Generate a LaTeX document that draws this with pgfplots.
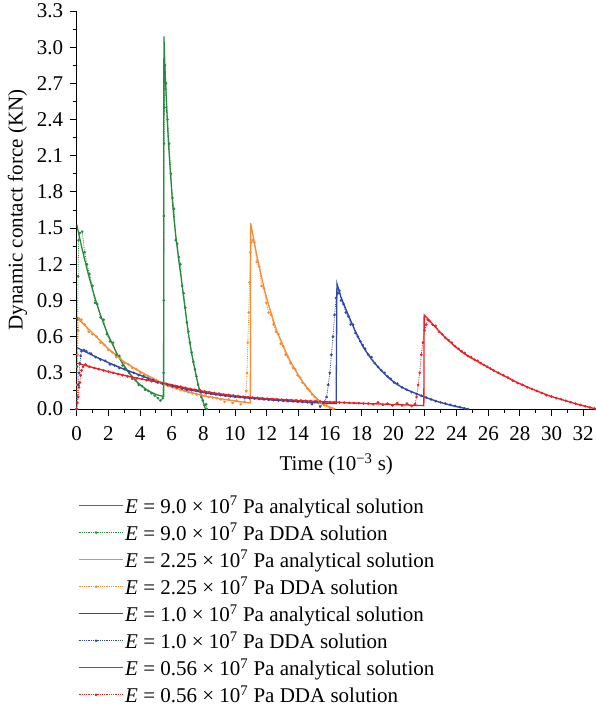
\documentclass[border=0pt]{standalone}
\usepackage{fontspec}
\setmainfont{Liberation Serif}
\usepackage{pgfplots}
\pgfplotsset{compat=1.18}
\definecolor{cg}{RGB}{40,138,64}
\definecolor{co}{RGB}{247,140,50}
\definecolor{cb}{RGB}{48,72,168}
\definecolor{cr}{RGB}{237,32,38}
\pgfplotsset{
  ana/.style={line width=1.3pt, no markers, color=#1, draw=#1},
  dda/.style={densely dotted, line width=0.8pt, color=#1, draw=#1, mark=*, mark size=0.9pt, mark options={solid, draw=#1, fill=#1}},
}
\begin{document}
\begin{tikzpicture}[font=\fontsize{21}{25}\selectfont]
\useasboundingbox (0,0) rectangle (596pt,710pt);
\begin{axis}[
  at={(76.7pt,301pt)}, anchor=south west,
  scale only axis, width=519.2pt, height=398pt,
  xmin=0, xmax=32.8, ymin=0, ymax=3.3,
  axis x line*=bottom, axis y line*=left,
  axis line style={line width=0.9pt},
  tick align=outside, tick style={line width=0.9pt, black},
  major tick length=7pt, minor tick length=4pt,
  xtick={0,2,...,32}, ytick={0,0.3,...,3.31},
  minor x tick num=1, minor y tick num=1,
  /pgf/number format/assume math mode=true,
  yticklabel style={xshift=-3pt, /pgf/number format/.cd, fixed, fixed zerofill, precision=1},
  xticklabel style={yshift=-7pt, /pgf/number format/.cd, fixed, precision=0},
  xlabel={Time (10\textsuperscript{−3} s)},
  xlabel style={yshift=-6pt},
  ylabel={Dynamic contact force (KN)},
  ylabel shift=3pt,
  legend image code/.code={\draw[mark repeat=2,mark phase=2,#1] plot coordinates {(0pt,0pt) (17.5pt,0pt) (35pt,0pt)}; \path (0pt,0pt) -- (44pt,0pt);},
  legend style={at={(0,-0.2085)}, xshift=-2pt, anchor=north west, draw=none, fill=none,
    cells={anchor=west}, font=\fontsize{21}{25}\selectfont, row sep=4.4pt},
  legend cell align=left,
]
\addlegendimage{color=cg, draw=cg, line width=1.3pt, mark=none}
\addlegendentry{\textit{E} = 9.0 × 10\textsuperscript{7} Pa analytical solution}
\addlegendimage{color=cg, draw=cg, densely dotted, line width=0.8pt, mark=*, mark size=0.9pt, mark options={solid, fill=cg}}
\addlegendentry{\textit{E} = 9.0 × 10\textsuperscript{7} Pa DDA solution}
\addlegendimage{color=co, draw=co, line width=1.3pt, mark=none}
\addlegendentry{\textit{E} = 2.25 × 10\textsuperscript{7} Pa analytical solution}
\addlegendimage{color=co, draw=co, densely dotted, line width=0.8pt, mark=*, mark size=0.9pt, mark options={solid, fill=co}}
\addlegendentry{\textit{E} = 2.25 × 10\textsuperscript{7} Pa DDA solution}
\addlegendimage{color=cb, draw=cb, line width=1.3pt, mark=none}
\addlegendentry{\textit{E} = 1.0 × 10\textsuperscript{7} Pa analytical solution}
\addlegendimage{color=cb, draw=cb, densely dotted, line width=0.8pt, mark=*, mark size=0.9pt, mark options={solid, fill=cb}}
\addlegendentry{\textit{E} = 1.0 × 10\textsuperscript{7} Pa DDA solution}
\addlegendimage{color=cr, draw=cr, line width=1.3pt, mark=none}
\addlegendentry{\textit{E} = 0.56 × 10\textsuperscript{7} Pa analytical solution}
\addlegendimage{color=cr, draw=cr, densely dotted, line width=0.8pt, mark=*, mark size=0.9pt, mark options={solid, fill=cr}}
\addlegendentry{\textit{E} = 0.56 × 10\textsuperscript{7} Pa DDA solution}
% E = 9.0e7
\addplot[ana=cg, forget plot] coordinates {(0,1.53) (0.25,1.38) (0.5,1.24) (0.75,1.11) (1,0.99) (1.25,0.88) (1.5,0.78) (1.75,0.69) (2,0.61) (2.25,0.54) (2.5,0.47) (2.75,0.41) (3,0.36) (3.25,0.31) (3.5,0.27) (3.76,0.23) (4.02,0.2) (4.27,0.175) (4.53,0.15) (4.78,0.135) (5.03,0.12) (5.29,0.11) (5.49,0.105) (5.51,3.09) (5.59,2.78) (5.69,2.48) (5.79,2.22) (5.90,2.0) (6.0,1.81) (6.10,1.64) (6.20,1.51) (6.30,1.39) (6.45,1.23) (6.61,1.08) (6.76,0.92) (6.91,0.77) (7.06,0.62) (7.26,0.46) (7.54,0.28) (7.77,0.15) (8.01,0.05) (8.13,0)};
\addplot[dda=cg, forget plot] coordinates {(0,0) (0.03,0.35) (0.06,0.75) (0.09,1.1) (0.12,1.4) (0.2,1.46) (0.35,1.47) (0.5,1.3) (0.65,1.2) (0.8,1.12) (1.0,1.02) (1.15,0.88) (1.3,0.87) (1.5,0.76) (1.7,0.74) (1.9,0.62) (2.1,0.56) (2.3,0.55) (2.5,0.45) (2.7,0.44) (2.9,0.36) (3.1,0.33) (3.31,0.3) (3.51,0.25) (3.72,0.24) (3.92,0.2) (4.12,0.19) (4.32,0.16) (4.53,0.15) (4.73,0.13) (4.93,0.11) (5.13,0.09) (5.29,0.07) (5.44,0.09) (5.49,0.3) (5.50,0.9) (5.51,1.6) (5.52,2.2) (5.54,2.5) (5.57,2.85) (5.64,2.7) (5.74,2.4) (5.84,2.2) (5.95,1.95) (6.05,1.75) (6.15,1.66) (6.25,1.4) (6.35,1.37) (6.45,1.26) (6.55,1.2) (6.66,1.02) (6.76,0.96) (6.86,0.84) (6.96,0.72) (7.06,0.64) (7.16,0.55) (7.26,0.47) (7.37,0.39) (7.47,0.33) (7.57,0.27) (7.67,0.2) (7.77,0.16) (7.87,0.1) (7.97,0.07) (8.08,0.03) (8.18,0.04) (8.23,0.0)};
% E = 2.25e7
\addplot[ana=co, forget plot] coordinates {(0,0.76) (0.5,0.695) (1,0.63) (1.5,0.565) (2,0.5) (2.5,0.445) (3,0.39) (3.51,0.35) (4.02,0.31) (4.52,0.275) (5.03,0.24) (5.54,0.21) (6.05,0.18) (6.55,0.16) (7.06,0.14) (7.57,0.125) (8.08,0.11) (8.58,0.097) (9.09,0.085) (9.60,0.075) (10.1,0.065) (10.61,0.056) (10.97,0.05) (10.99,1.54) (11.12,1.45) (11.37,1.28) (11.63,1.12) (11.9,0.97) (12.13,0.86) (12.43,0.73) (12.69,0.63) (12.96,0.55) (13.22,0.47) (13.48,0.40) (13.76,0.335) (14.01,0.28) (14.26,0.23) (14.54,0.18) (14.82,0.135) (15.08,0.1) (15.33,0.068) (15.58,0.04) (15.99,0.015) (16.34,0)};
\addplot[dda=co, forget plot] coordinates {(0,0) (0.03,0.2) (0.06,0.45) (0.1,0.65) (0.15,0.75) (0.3,0.74) (0.5,0.7) (0.75,0.64) (1.0,0.62) (1.25,0.6) (1.5,0.55) (1.75,0.53) (2.0,0.49) (2.25,0.47) (2.5,0.43) (2.75,0.42) (3.0,0.38) (3.26,0.37) (3.51,0.34) (3.76,0.33) (4.02,0.3) (4.27,0.28) (4.53,0.27) (4.78,0.25) (5.03,0.24) (5.29,0.22) (5.54,0.2) (5.79,0.19) (6.05,0.18) (6.30,0.17) (6.55,0.16) (6.81,0.15) (7.06,0.14) (7.32,0.13) (7.57,0.12) (7.82,0.12) (8.08,0.11) (8.33,0.1) (8.58,0.095) (8.84,0.09) (9.09,0.08) (9.34,0.06) (9.60,0.08) (9.85,0.05) (10.1,0.07) (10.36,0.04) (10.61,0.06) (10.71,0.15) (10.76,0.3) (10.81,0.55) (10.87,0.8) (10.92,1.05) (10.97,1.3) (11.02,1.38) (11.12,1.4) (11.22,1.38) (11.37,1.22) (11.53,1.18) (11.68,1.02) (11.83,1.0) (11.98,0.88) (12.13,0.8) (12.29,0.78) (12.44,0.7) (12.59,0.64) (12.74,0.62) (12.89,0.54) (13.05,0.52) (13.2,0.45) (13.35,0.43) (13.5,0.38) (13.66,0.34) (13.81,0.33) (13.96,0.28) (14.11,0.26) (14.26,0.22) (14.42,0.2) (14.57,0.17) (14.72,0.15) (14.87,0.12) (15.03,0.1) (15.18,0.08) (15.33,0.06) (15.48,0.05) (15.63,0.03) (15.79,0.03) (15.99,0.01) (16.19,0.0)};
% E = 1.0e7
\addplot[ana=cb, forget plot] coordinates {(0,0.51) (1,0.445) (2,0.385) (3,0.33) (4.02,0.28) (5.03,0.23) (6.05,0.19) (7.06,0.16) (8.08,0.135) (9.09,0.115) (10.1,0.1) (11.12,0.088) (12.13,0.077) (13.15,0.068) (14.16,0.06) (15.18,0.052) (16.39,0.045) (16.44,1.04) (16.69,0.93) (17.06,0.81) (17.58,0.65) (18.11,0.51) (18.63,0.41) (19.16,0.33) (19.69,0.26) (20.22,0.205) (20.76,0.165) (21.26,0.138) (21.77,0.11) (22.32,0.083) (22.84,0.06) (23.37,0.04) (23.90,0.022) (24.43,0.008) (24.66,0)};
\addplot[dda=cb, forget plot] coordinates {(0,0) (0.05,0.1) (0.1,0.2) (0.15,0.3) (0.2,0.38) (0.25,0.44) (0.3,0.48) (0.45,0.49) (0.6,0.48) (0.9,0.46) (1.2,0.43) (1.5,0.41) (1.8,0.4) (2.1,0.37) (2.4,0.36) (2.7,0.34) (3.0,0.33) (3.31,0.31) (3.61,0.3) (3.92,0.28) (4.22,0.27) (4.53,0.25) (4.83,0.24) (5.13,0.22) (5.44,0.21) (5.74,0.2) (6.05,0.19) (6.35,0.18) (6.66,0.17) (6.96,0.16) (7.26,0.155) (7.57,0.15) (7.87,0.14) (8.18,0.13) (8.48,0.125) (8.79,0.12) (9.09,0.115) (9.39,0.11) (9.70,0.105) (10.0,0.1) (10.31,0.098) (10.61,0.093) (10.92,0.09) (11.22,0.087) (11.53,0.083) (11.83,0.08) (12.13,0.077) (12.44,0.074) (12.74,0.07) (13.05,0.068) (13.35,0.065) (13.66,0.063) (13.96,0.06) (14.26,0.058) (14.57,0.055) (14.87,0.04) (15.18,0.06) (15.38,0.02) (15.58,0.05) (15.79,0.1) (15.89,0.2) (15.99,0.3) (16.09,0.45) (16.19,0.6) (16.29,0.78) (16.39,0.92) (16.50,0.96) (16.60,0.98) (16.70,0.9) (16.85,0.87) (17.0,0.8) (17.16,0.77) (17.31,0.7) (17.46,0.7) (17.61,0.63) (17.76,0.6) (17.92,0.56) (18.07,0.53) (18.22,0.5) (18.42,0.45) (18.63,0.43) (18.83,0.38) (19.03,0.35) (19.24,0.32) (19.44,0.3) (19.64,0.27) (19.84,0.25) (20.05,0.22) (20.25,0.21) (20.55,0.18) (20.86,0.16) (21.16,0.14) (21.47,0.125) (21.77,0.11) (22.08,0.095) (22.38,0.08) (22.68,0.065) (22.99,0.055) (23.29,0.045) (23.60,0.035) (23.90,0.025) (24.21,0.015) (24.51,0.005) (24.71,0.0)};
% E = 0.56e7
\addplot[ana=cr, forget plot] coordinates {(0,0.38) (1,0.345) (2,0.31) (3,0.28) (4.02,0.25) (5.03,0.225) (6.05,0.2) (7.06,0.17) (8.08,0.145) (9.09,0.125) (10.1,0.108) (11.12,0.095) (12.13,0.085) (13.15,0.077) (14.16,0.07) (15.18,0.063) (16.19,0.057) (17.21,0.051) (18.22,0.046) (19.24,0.041) (20.25,0.036) (21.26,0.031) (21.93,0.028) (21.95,0.78) (22.28,0.735) (22.79,0.66) (23.29,0.592) (23.80,0.53) (24.31,0.475) (24.82,0.43) (25.32,0.395) (25.83,0.357) (26.34,0.32) (26.84,0.285) (27.35,0.252) (27.86,0.218) (28.37,0.188) (28.87,0.16) (29.38,0.133) (29.89,0.108) (30.4,0.088) (30.90,0.068) (31.41,0.048) (31.92,0.03) (32.42,0.013) (32.83,0)};
\addplot[dda=cr, forget plot] coordinates {(0,0) (0.05,0.05) (0.1,0.1) (0.15,0.18) (0.2,0.22) (0.25,0.28) (0.3,0.32) (0.4,0.35) (0.55,0.37) (0.8,0.35) (1.1,0.34) (1.4,0.33) (1.7,0.32) (2.0,0.31) (2.3,0.3) (2.6,0.29) (2.9,0.28) (3.21,0.27) (3.51,0.26) (3.82,0.255) (4.12,0.25) (4.42,0.24) (4.73,0.23) (5.03,0.225) (5.34,0.215) (5.64,0.21) (5.95,0.2) (6.25,0.19) (6.55,0.185) (6.86,0.175) (7.16,0.167) (7.47,0.16) (7.77,0.152) (8.08,0.145) (8.38,0.14) (8.68,0.133) (8.99,0.127) (9.29,0.12) (9.60,0.117) (9.90,0.112) (10.21,0.107) (10.51,0.102) (10.81,0.098) (11.12,0.095) (11.42,0.092) (11.73,0.089) (12.03,0.086) (12.34,0.083) (12.64,0.081) (12.95,0.078) (13.25,0.076) (13.55,0.074) (13.86,0.072) (14.16,0.07) (14.47,0.068) (14.77,0.066) (15.08,0.064) (15.38,0.062) (15.68,0.06) (15.99,0.058) (16.29,0.056) (16.60,0.055) (16.90,0.053) (17.21,0.051) (17.51,0.05) (17.82,0.048) (18.12,0.046) (18.42,0.045) (18.73,0.04) (19.03,0.055) (19.34,0.035) (19.64,0.045) (19.95,0.03) (20.25,0.05) (20.55,0.03) (20.86,0.045) (21.16,0.025) (21.37,0.04) (21.47,0.1) (21.57,0.2) (21.67,0.3) (21.77,0.45) (21.87,0.55) (21.97,0.65) (22.08,0.7) (22.18,0.74) (22.28,0.73) (22.48,0.7) (22.68,0.69) (22.89,0.64) (23.09,0.62) (23.29,0.59) (23.50,0.57) (23.70,0.55) (23.90,0.52) (24.11,0.5) (24.31,0.48) (24.51,0.465) (24.71,0.44) (24.92,0.43) (25.12,0.41) (25.32,0.4) (25.53,0.38) (25.73,0.365) (25.93,0.35) (26.13,0.335) (26.34,0.32) (26.64,0.3) (26.95,0.28) (27.25,0.26) (27.55,0.235) (27.86,0.215) (28.16,0.2) (28.47,0.18) (28.77,0.165) (29.08,0.15) (29.38,0.133) (29.68,0.115) (29.99,0.103) (30.29,0.09) (30.60,0.08) (30.90,0.068) (31.21,0.056) (31.51,0.044) (31.82,0.033) (32.12,0.022) (32.42,0.013) (32.73,0.004) (32.83,0)};
\end{axis}
\end{tikzpicture}
\end{document}
